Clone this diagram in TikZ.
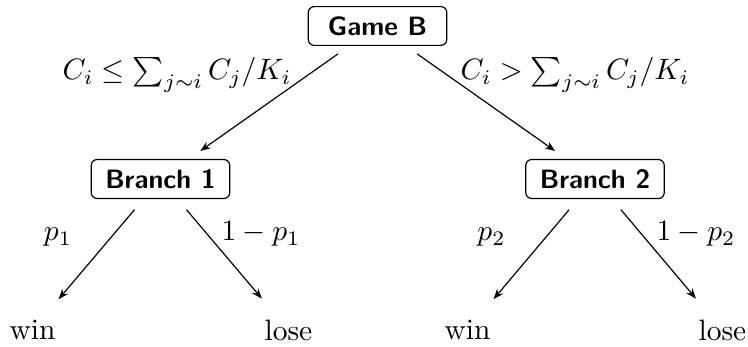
\documentclass[tikz,border=0pt]{standalone}
\usetikzlibrary{arrows.meta}
\begin{document}
\begin{tikzpicture}[x=1cm,y=1cm,
  box/.style={font=\small\sffamily\bfseries,rounded corners=2pt,draw,minimum width=1.65cm},
  lab/.style={anchor=base},
  e/.style={-{Stealth[length=3.5pt]},shorten <=4.7pt,shorten >=4.7pt}]
\useasboundingbox (0,0) rectangle (8.912,-4.134);
\node[box] (GameB) at (4.498,-0.310) {Game B};
\node[box] (GameBBranch1) at (1.912,-2.133) {Branch 1};
\node[box] (GameBBranch2) at (7.089,-2.133) {Branch 2};
\node (GameBWin1) at (0.387,-3.932) {win};
\node (GameBLose1) at (3.437,-3.932) {lose};
\node (GameBWin2) at (5.570,-3.932) {win};
\node (GameBLose2) at (8.608,-3.932) {lose};
% edge labels
\node[lab] (GameBCondLe) at (2.109,-0.953) {$C_i \le \sum_{j\sim i} C_j/K_i$};
\node[lab] (GameBCondGt) at (6.851,-0.953) {$C_i > \sum_{j\sim i} C_j/K_i$};
\node[lab] (GameBP1) at (0.691,-2.871) {$p_1$};
\node[lab] (GameBQ1) at (3.110,-2.871) {$1-p_1$};
\node[lab] (GameBP2) at (5.856,-2.871) {$p_2$};
\node[lab] (GameBQ2) at (8.292,-2.871) {$1-p_2$};
\draw[e] (GameB) -- (GameBBranch1);
\draw[e] (GameB) -- (GameBBranch2);
\draw[e] (GameBBranch1) -- (GameBWin1);
\draw[e] (GameBBranch1) -- (GameBLose1);
\draw[e] (GameBBranch2) -- (GameBWin2);
\draw[e] (GameBBranch2) -- (GameBLose2);
\end{tikzpicture}
\end{document}
